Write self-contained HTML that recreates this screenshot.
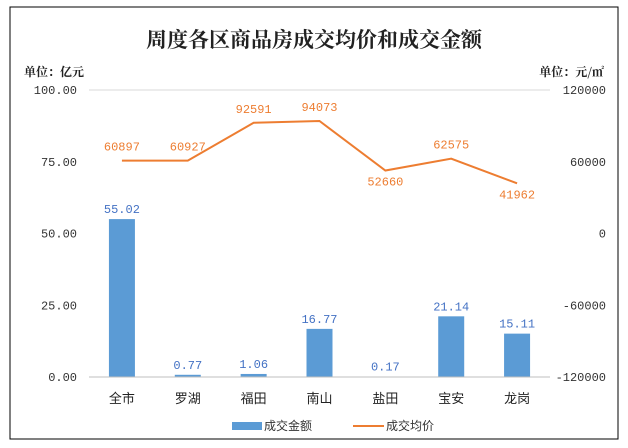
<!DOCTYPE html>
<html><head><meta charset="utf-8"><style>
body{margin:0;background:#fff;}
svg{display:block;font-family:"Liberation Mono","Noto Sans CJK SC",monospace;}
</style></head><body>
<svg width="628" height="448">
<rect x="10" y="7" width="608" height="432" fill="#fff" stroke="#000" stroke-width="1"/>
<text x="314" y="47" text-anchor="middle" font-family="'Noto Serif CJK SC',serif" font-size="21" font-weight="bold" fill="#222">周度各区商品房成交均价和成交金额</text>
<text x="24" y="76" font-family="'Noto Serif CJK SC',serif" font-size="12" font-weight="bold" fill="#222">单位：亿元</text>
<text x="604" y="76" text-anchor="end" font-family="'Noto Serif CJK SC',serif" font-size="12" font-weight="bold" fill="#222">单位：元/㎡</text>
<g id="plot"></g>
<g>
<rect x="232" y="422" width="30" height="8" fill="#5b9bd5"/>
<text x="264" y="430" font-size="12" fill="#333" font-family="'Noto Sans CJK SC',sans-serif">成交金额</text>
<line x1="353" y1="426" x2="384" y2="426" stroke="#ed7d31" stroke-width="2"/>
<text x="386" y="430" font-size="12" fill="#333" font-family="'Noto Sans CJK SC',sans-serif">成交均价</text>
</g>
</svg>
<script>
const categories=["全市","罗湖","福田","南山","盐田","宝安","龙岗"];
const amounts=[55.02,0.77,1.06,16.77,0.17,21.14,15.11];
const prices=[60897,60927,92591,94073,52660,62575,41962];
const leftTicks=[0,25,50,75,100];
const rightTicks=[-120000,-60000,0,60000,120000];
const NS="http://www.w3.org/2000/svg";
const g=document.getElementById("plot");
const x0=89,x1=550,yTop=90,yBot=377;
const step=(x1-x0)/categories.length;
const xc=i=>x0+step*(i+0.5);
const yL=v=>yBot-(v/100)*(yBot-yTop);
const yR=v=>yBot-((v+120000)/240000)*(yBot-yTop);
function mk(t,a,txt){const e=document.createElementNS(NS,t);for(const k in a)e.setAttribute(k,a[k]);if(txt!==undefined)e.textContent=txt;g.appendChild(e);return e;}
let e=mk("line",{x1:x0,x2:x1,y1:yL(100),y2:yL(100),stroke:"#d9d9d9"});


leftTicks.forEach(v=>{const t=mk("text",{x:77,y:yL(v)+4,"text-anchor":"end","font-size":"12",fill:"#333"},v.toFixed(2));

});
rightTicks.forEach(v=>{const t=mk("text",{x:606,y:yR(v)+4,"text-anchor":"end","font-size":"12",fill:"#333"},String(v));

});
amounts.forEach((v,i)=>{
const r=mk("rect",{x:xc(i)-13,y:yL(v),width:26,height:yBot-yL(v),fill:"#5b9bd5"});


const t=mk("text",{x:xc(i),y:yL(v)-6,"text-anchor":"middle","font-size":"12",fill:"#4472c4"},v.toFixed(2));


const c=mk("text",{x:xc(i),y:403,"text-anchor":"middle","font-size":"13",fill:"#222","font-family":"'Noto Sans CJK SC',sans-serif"},categories[i]);


});
e=mk("line",{x1:x0,x2:x1,y1:yBot,y2:yBot,stroke:"#bfbfbf"});


const pl=mk("polyline",{points:prices.map((v,i)=>xc(i)+","+yR(v)).join(" "),fill:"none",stroke:"#ed7d31","stroke-width":"2"});


prices.forEach((v,i)=>{const t=mk("text",{x:xc(i),y:yR(v)-(i==4||i==6?-15:10),"text-anchor":"middle","font-size":"12",fill:"#ed7d31"},String(v));

});
</script>
</body></html>
